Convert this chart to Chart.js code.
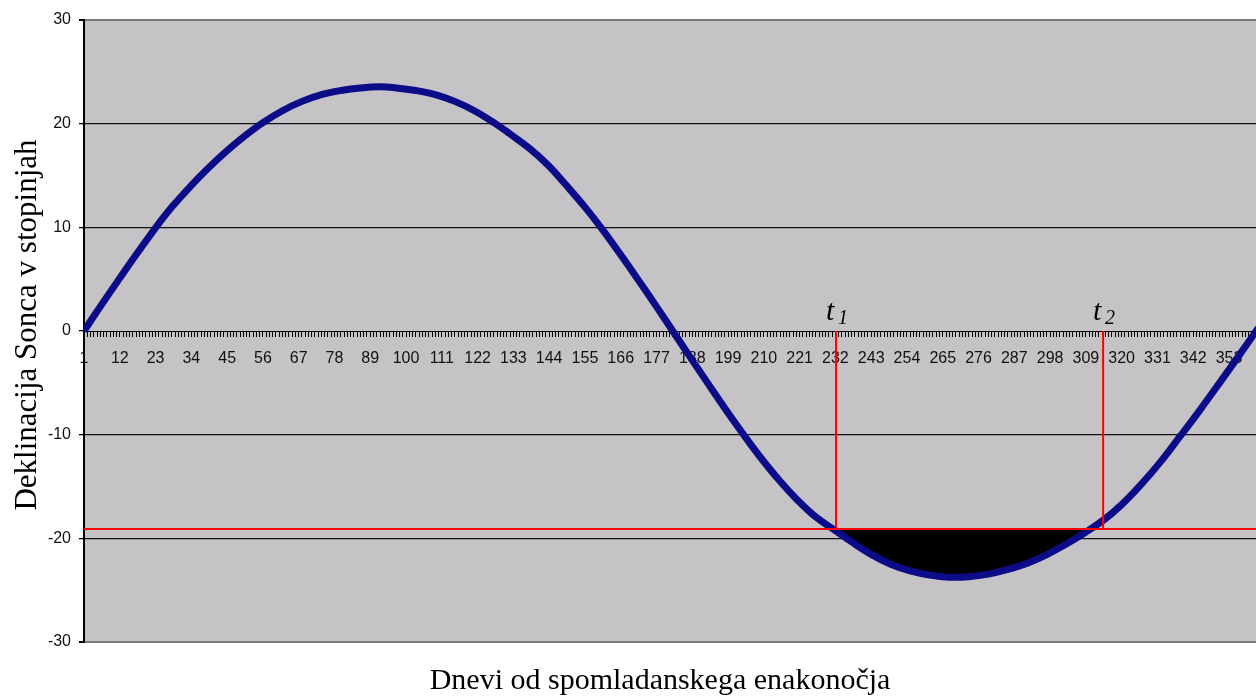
<!DOCTYPE html>
<html>
<head>
<meta charset="utf-8">
<script src="https://cdn.jsdelivr.net/npm/chart.js@4/dist/chart.umd.min.js"></script>
<style>
  html, body { margin:0; padding:0; background:#fff; }
  #wrap { width:1256px; height:696px; position:relative; }
</style>
</head>
<body>
<div id="wrap"><canvas id="chart"></canvas></div>
<script>
// days from the vernal equinox and solar declination (deg)
const days = [1,6,12,17,23,28,34,39,45,51,56,62,68,74,80,86,92,97,103,109,115,121,127,132,138,144,149,155,160,166,171,177,182,
  187,193,198,204,209,215,220,226,232,237,243,249,255,261,267,273,279,285,291,297,303,309,315,320,326,332,338,344,350,356,362,364];
const decl = [0.0,2.35,5.1,7.35,9.95,11.95,14.05,15.65,17.4,18.95,20.1,21.25,22.15,22.8,23.2,23.45,23.55,23.45,23.2,22.8,22.15,21.25,20.1,19.0,17.6,15.9,14.15,11.95,9.95,7.35,5.1,2.35,0.0,
  -2.35,-5.15,-7.45,-10.1,-12.2,-14.5,-16.2,-17.95,-19.25,-20.35,-21.55,-22.5,-23.15,-23.55,-23.75,-23.7,-23.45,-23.0,-22.4,-21.57,-20.55,-19.4,-18.1,-16.75,-14.8,-12.6,-10.15,-7.65,-5.05,-2.4,0.3,1.2];
const yTicks = [-30,-20,-10,0,10,20,30];
const labelStep = 11;          // x labels 1, 12, 23, ...
const lastDay = 361.3;         // right edge of the visible plot
const level = -19.1;           // red horizontal line
const t1 = 232.2, t2 = 314.3;  // red vertical lines

const curve = days.map((d,i)=>({x:d, y:decl[i]}));

const extras = {
  id:'extras',
  beforeDraw(chart){
    const {ctx, chartArea:a} = chart;
    ctx.save();
    ctx.fillStyle = '#c5c3c6';
    ctx.fillRect(a.left, a.top, a.right-a.left, a.bottom-a.top);
    ctx.restore();
  },
  afterDraw(chart){
    const {ctx, scales:{x,y}} = chart;
    ctx.save();
    ctx.fillStyle = '#000';
    ctx.textAlign = 'center';
    ctx.textBaseline = 'alphabetic';
    ctx.font = '30px "Liberation Serif", "Times New Roman", serif';
    ctx.fillText('Dnevi od spomladanskega enakonočja', 660, 689);
    ctx.translate(36, 325);
    ctx.rotate(-Math.PI/2);
    ctx.font = '31px "Liberation Serif", "Times New Roman", serif';
    ctx.fillText('Deklinacija Sonca v stopinjah', 0, 0);
    ctx.setTransform(1,0,0,1,0,0);
    // t1, t2 marks
    [[t1,'1'],[t2,'2']].forEach(([t,s])=>{
      const px = x.getPixelForValue(t), py = y.getPixelForValue(0);
      ctx.textAlign = 'left';
      ctx.font = 'italic 30px "Liberation Serif", serif';
      ctx.fillText('t', px-10, py-11);
      ctx.font = 'italic 20px "Liberation Serif", serif';
      ctx.fillText(s, px+2, py-7);
    });
    ctx.restore();
  }
};

new Chart(document.getElementById('chart'), {
  type:'line',
  data:{
    datasets:[
      { data:[{x:1,y:level},{x:lastDay,y:level}], borderColor:'#ff0000', borderWidth:2, pointRadius:0, tension:0 },
      { data:[{x:t1,y:0},{x:t1,y:level}], borderColor:'#ff0000', borderWidth:2, pointRadius:0, tension:0 },
      { data:[{x:t2,y:0},{x:t2,y:level}], borderColor:'#ff0000', borderWidth:2, pointRadius:0, tension:0 },
      { data:curve, borderColor:'#0c0c88', borderWidth:7, pointRadius:0, tension:0.4,
        fill:{ target:{ value:level }, above:'rgba(0,0,0,0)', below:'#000' } }
    ]
  },
  options:{
    responsive:true,
    maintainAspectRatio:false,
    animation:false,
    layout:{ padding:{ left:0, top:20, right:0, bottom:54 } },
    plugins:{ legend:{display:false}, tooltip:{enabled:false} },
    scales:{
      x:{
        type:'linear',
        position:{ y:0 },
        min:1, max:lastDay,
        afterFit(s){ s.paddingLeft = 0; s.paddingRight = 0; },
        border:{ display:true, color:'#000', width:1 },
        grid:{ drawOnChartArea:false, drawTicks:true, tickLength:5, tickColor:'#000', tickWidth:1 },
        ticks:{
          stepSize:1, autoSkip:false, maxRotation:0, minRotation:0, padding:13,
          color:'#111', font:{ family:'"Liberation Sans", Arial, sans-serif', size:16 },
          callback:v => (Number.isInteger(v) && (v-1)%labelStep===0) ? String(v) : ''
        }
      },
      y:{
        min:-30, max:30,
        afterFit(s){ s.width = 84; },
        afterBuildTicks(s){ s.ticks = yTicks.map(v=>({value:v})); },
        border:{ display:true, color:'#000', width:2 },
        grid:{
          tickLength:5, tickColor:'#000',
          color:c => (c.tick.value===30 || c.tick.value===-30) ? '#7c7c7c' : (c.tick.value===0 ? 'rgba(0,0,0,0)' : '#111'),
          lineWidth:c => (c.tick.value===30 || c.tick.value===-30) ? 2 : 1.3
        },
        ticks:{ padding:8, color:'#111', font:{ family:'"Liberation Sans", Arial, sans-serif', size:16 } }
      }
    }
  },
  plugins:[extras]
});
</script>
</body>
</html>
